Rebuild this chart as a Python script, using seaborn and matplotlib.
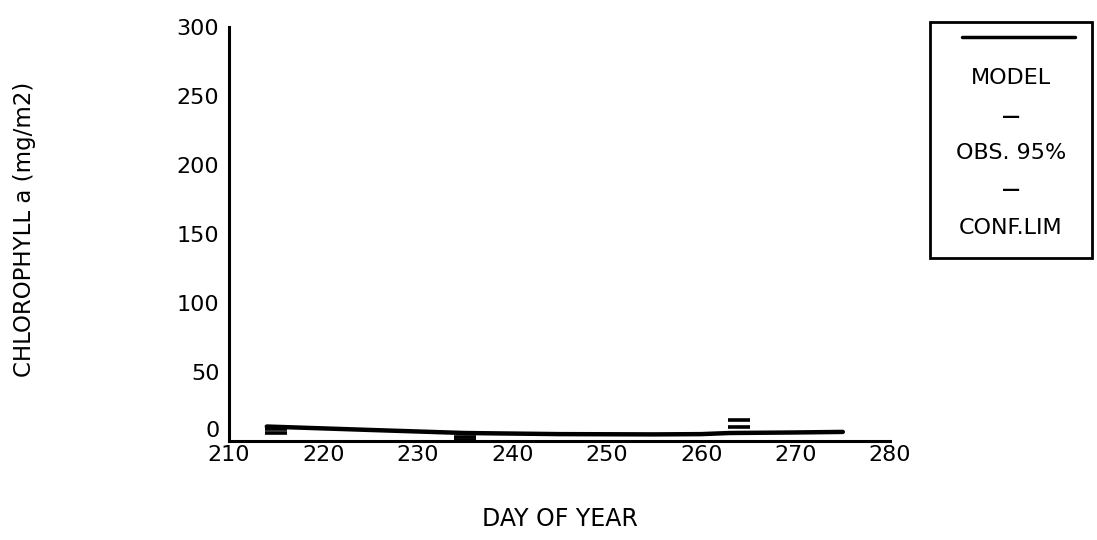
import matplotlib
matplotlib.use("Agg")
import matplotlib.pyplot as plt
import seaborn as sns
import pandas as pd
from matplotlib.patches import Rectangle
from matplotlib.lines import Line2D

# ---- data ----
model_day = [214, 225, 235, 245, 255, 260, 263, 270, 275]
model_chl = [10.5, 8.0, 5.8, 5.0, 4.8, 5.0, 5.8, 6.2, 6.6]
obs_day = [215, 235, 264]
obs_upper = [8.7, 3.2, 15.2]
obs_lower = [5.8, 0.6, 10.1]
x_ticks = [210, 220, 230, 240, 250, 260, 270, 280]
y_ticks = [0, 50, 100, 150, 200, 250, 300]

sns.set_style("white")
plt.rcParams['font.family'] = ['DejaVu Sans']
plt.rcParams['text.color'] = 'black'

fig = plt.figure(figsize=(10.97, 5.40), dpi=100)
ax = fig.add_axes([0.2088, 0.1833, 0.6025, 0.7667])

model_df = pd.DataFrame({"day": model_day, "chl": model_chl})
obs_df = pd.DataFrame({"day": obs_day * 2, "chl": obs_upper + obs_lower})

sns.lineplot(data=model_df, x="day", y="chl", ax=ax, color="black", linewidth=3.2)
sns.scatterplot(data=obs_df, x="day", y="chl", ax=ax, marker="_", s=250,
                color="black", linewidth=2.6)

ax.set_xlim(210, 280)
ax.set_ylim(0, 300)
ax.set_xticks(x_ticks)
ax.set_yticks(y_ticks)
ax.set_xticklabels([str(v) for v in x_ticks], fontsize=16)
ax.set_yticklabels([str(v) for v in y_ticks], fontsize=16)
ax.tick_params(axis="y", direction="in", length=13, width=2, pad=7, colors="black")
ax.tick_params(axis="x", length=0, pad=3, colors="black")
for lab in ax.get_yticklabels():
    if lab.get_text() == "0":
        lab.set_va("bottom")
for s in ["top", "right"]:
    ax.spines[s].set_visible(False)
for s in ["left", "bottom"]:
    ax.spines[s].set_linewidth(2.2)
    ax.spines[s].set_color("black")

ax.set_xlabel("")
ax.set_ylabel("")
fig.text(0.022, 0.576, "CHLOROPHYLL a (mg/m2)", rotation=90, fontsize=16.5,
         ha="center", va="center", color="black")
fig.text(0.51, 0.038, "DAY OF YEAR", fontsize=17, ha="center", va="center",
         color="black")

# legend box
lx0, ly0, lx1, ly1 = 930, 22, 1092, 258
fig.patches.append(Rectangle((lx0 / 1097, 1 - ly1 / 540), (lx1 - lx0) / 1097,
                             (ly1 - ly0) / 540, transform=fig.transFigure,
                             fill=False, edgecolor="black", linewidth=2))
fig.lines.append(Line2D([962 / 1097, 1075 / 1097], [1 - 37 / 540, 1 - 37 / 540],
                        transform=fig.transFigure, color="black", linewidth=2.5))
cx = 1011 / 1097
fig.text(cx, 1 - 78 / 540, "MODEL", fontsize=16, ha="center", va="center",
         color="black")
fig.text(cx, 1 - 117 / 540, "\u2014", fontsize=13, ha="center", va="center",
         fontweight="bold", color="black")
fig.text(cx, 1 - 153 / 540, "OBS. 95%", fontsize=16, ha="center", va="center",
         color="black")
fig.text(cx, 1 - 190 / 540, "\u2014", fontsize=13, ha="center", va="center",
         fontweight="bold", color="black")
fig.text(cx, 1 - 228 / 540, "CONF.LIM", fontsize=16, ha="center", va="center",
         color="black")

fig.savefig("out.png", dpi=100, facecolor="white")
